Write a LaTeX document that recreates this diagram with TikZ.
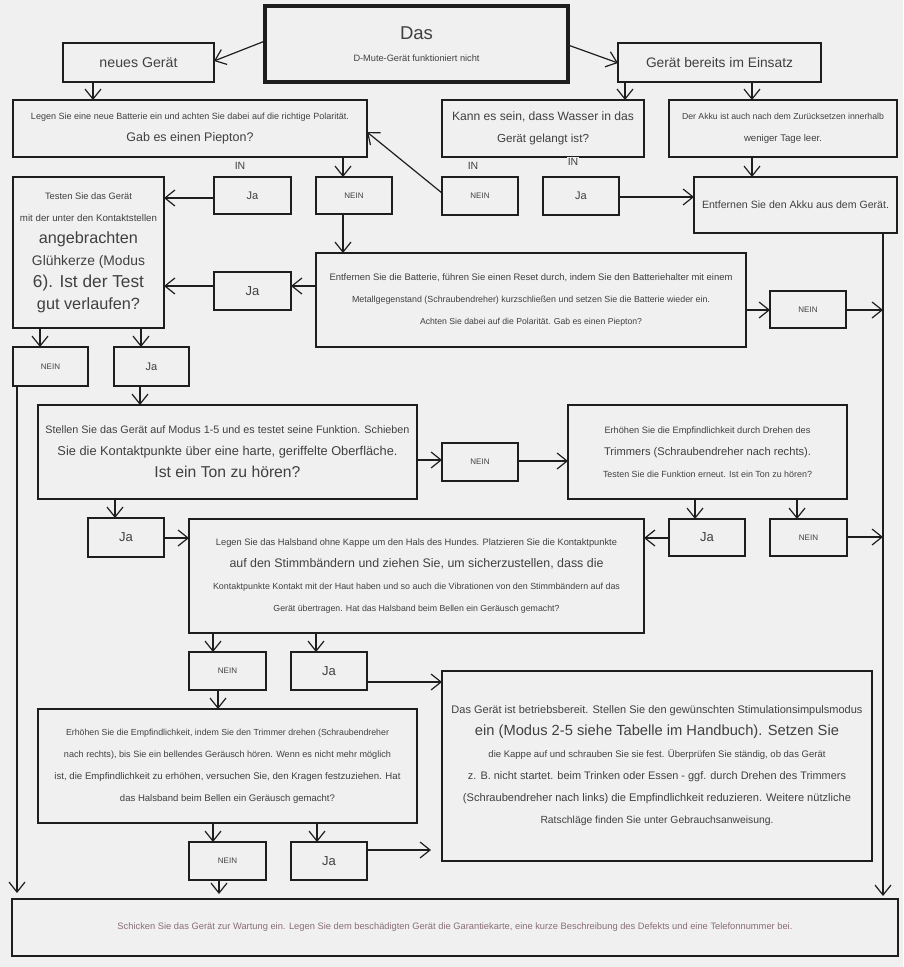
\documentclass[tikz,border=0pt]{standalone}
\usepackage{fontspec}
\setmainfont{Liberation Sans}
\usepackage{graphicx}
\usetikzlibrary{arrows.meta}
\definecolor{bg}{HTML}{F0F0F0}
\definecolor{bd}{HTML}{1E1E1E}
\definecolor{tx}{HTML}{404040}
\definecolor{mauve}{HTML}{8A6D78}
\newcommand\fl[2]{\resizebox{#1pt}{!}{#2}}
\newcommand\bx[6][]{\node[box,#1,minimum width={(#5-#3)*1pt},minimum height={(#6-#4)*1pt}] (#2) at ({(#3+#5)/2},{(#4+#6)/2})}
\tikzset{
  box/.style={draw=bd, line width=1.6pt, fill=bg, inner sep=0pt, outer sep=0pt, text=tx, align=center,
    font={\fontsize{10}{22}\selectfont\lineskiplimit=-100pt}},
  smallja/.style={font={\fontsize{11}{13}\selectfont}},
  bigja/.style={font={\fontsize{13}{15}\selectfont}},
  nein/.style={font={\fontsize{8}{10}\selectfont}},
  inlabel/.style={fill=bg, text=tx, inner sep=1pt, font={\fontsize{10.5}{12}\selectfont}},
  arr/.style={draw=bd, line width=1.2pt, -{Straight Barb[length=10pt,width=16pt]}},
}
\begin{document}
\begin{tikzpicture}[x=1pt,y=-1pt]
\fill[bg] (0,0) rectangle (903,967);
\useasboundingbox (0,0) rectangle (903,967);

% top row
\bx[line width=3.6pt]{title}{265}{6}{568}{82}{\fl{33}{Das}\\\fl{126}{D-Mute-Gerät funktioniert nicht}};
\bx{neues}{63}{43}{214}{82}{\fl{78}{neues Gerät}};
\bx{bereits}{618}{43}{821}{82}{\fl{147}{Gerät bereits im Einsatz}};

% second row
\bx{box1}{13}{100}{367}{157}{\fl{318}{Legen Sie eine neue Batterie ein und achten Sie dabei auf die richtige Polarität.}\\\fl{127}{Gab es einen Piepton?}};
\bx{kann}{442}{100}{644}{157}{\fl{182}{Kann es sein, dass Wasser in das}\\\fl{92}{Gerät gelangt ist?}};
\bx{akku}{669}{100}{897}{157}{\fl{202}{Der Akku ist auch nach dem Zurücksetzen innerhalb}\\\fl{78}{weniger Tage leer.}};

% third row
\bx[smallja]{ja1}{214}{177}{291}{214}{Ja};
\bx[nein]{nein1}{316}{177}{392}{214}{NEIN};
\bx[nein]{nein2}{442}{177}{518}{215}{NEIN};
\bx[smallja]{ja2}{543}{177}{619}{215}{Ja};
\bx{entf}{694}{177}{897}{233}{\fl{187}{Entfernen Sie den Akku aus dem Gerät.}};
\node[inlabel] (in1) at (240,166) {IN};
\node[inlabel] (in2) at (473,166) {IN};
\node[inlabel] (in3) at (573,162) {IN};

\bx{testen}{13}{177}{164}{328}{\fl{87}{Testen Sie das Gerät}\\\fl{137}{mit der unter den Kontaktstellen}\\\fl{99}{angebrachten}\\\fl{113}{Glühkerze (Modus}\\\fl{111}{6). Ist der Test}\\\fl{103}{gut verlaufen?}};

\bx{reset}{316}{253}{746}{347}{\fl{403}{Entfernen Sie die Batterie, führen Sie einen Reset durch, indem Sie den Batteriehalter mit einem}\\\fl{358}{Metallgegenstand (Schraubendreher) kurzschließen und setzen Sie die Batterie wieder ein.}\\\fl{222}{Achten Sie dabei auf die Polarität. Gab es einen Piepton?}};
\bx[bigja]{ja3}{214}{272}{291}{310}{Ja};
\bx[nein]{nein3}{770}{291}{846}{328}{NEIN};

\bx[nein]{nein4}{13}{347}{88}{386}{NEIN};
\bx[smallja]{ja4}{114}{347}{189}{386}{Ja};

\bx{stellen}{38}{405}{417}{499}{\fl{364}{Stellen Sie das Gerät auf Modus 1-5 und es testet seine Funktion. Schieben}\\\fl{340}{Sie die Kontaktpunkte über eine harte, geriffelte Oberfläche.}\\\fl{146}{Ist ein Ton zu hören?}};
\bx[nein]{nein5}{442}{443}{518}{481}{NEIN};
\bx{erh1}{568}{405}{847}{499}{\fl{206}{Erhöhen Sie die Empfindlichkeit durch Drehen des}\\\fl{207}{Trimmers (Schraubendreher nach rechts).}\\\fl{209}{Testen Sie die Funktion erneut. Ist ein Ton zu hören?}};

\bx[bigja]{ja5}{88}{518}{164}{557}{Ja};
\bx[bigja]{ja6}{669}{519}{745}{556}{Ja};
\bx[nein]{nein6}{770}{519}{847}{556}{NEIN};

\bx{hals}{189}{519}{644}{633}{\fl{401}{Legen Sie das Halsband ohne Kappe um den Hals des Hundes. Platzieren Sie die Kontaktpunkte}\\\fl{374}{auf den Stimmbändern und ziehen Sie, um sicherzustellen, dass die}\\\fl{407}{Kontaktpunkte Kontakt mit der Haut haben und so auch die Vibrationen von den Stimmbändern auf das}\\\fl{286}{Gerät übertragen. Hat das Halsband beim Bellen ein Geräusch gemacht?}};

\bx[nein]{nein7}{189}{652}{266}{690}{NEIN};
\bx[bigja]{ja7}{291}{652}{367}{690}{Ja};

\bx{betrieb}{442}{671}{872}{861}{\fl{411}{Das Gerät ist betriebsbereit. Stellen Sie den gewünschten Stimulationsimpulsmodus}\\\fl{364}{ein (Modus 2-5 siehe Tabelle im Handbuch). Setzen Sie}\\\fl{337}{die Kappe auf und schrauben Sie sie fest. Überprüfen Sie ständig, ob das Gerät}\\\fl{378}{z. B. nicht startet. beim Trinken oder Essen - ggf. durch Drehen des Trimmers}\\\fl{388}{(Schraubendreher nach links) die Empfindlichkeit reduzieren. Weitere nützliche}\\\fl{233}{Ratschläge finden Sie unter Gebrauchsanweisung.}};

\bx{erh2}{38}{709}{417}{823}{\fl{323}{Erhöhen Sie die Empfindlichkeit, indem Sie den Trimmer drehen (Schraubendreher}\\\fl{327}{nach rechts), bis Sie ein bellendes Geräusch hören. Wenn es nicht mehr möglich}\\\fl{346}{ist, die Empfindlichkeit zu erhöhen, versuchen Sie, den Kragen festzuziehen. Hat}\\\fl{215}{das Halsband beim Bellen ein Geräusch gemacht?}};

\bx[nein]{nein8}{189}{842}{266}{880}{NEIN};
\bx[bigja]{ja8}{291}{842}{367}{880}{Ja};

\bx[text=mauve]{last}{12}{899}{898}{956}{\fl{675}{Schicken Sie das Gerät zur Wartung ein. Legen Sie dem beschädigten Gerät die Garantiekarte, eine kurze Beschreibung des Defekts und eine Telefonnummer bei.}};

% connectors
\draw[arr] (title.west |- 0,41) -- (neues.east |- 0,61);
\draw[arr] (title.east |- 0,45) -- (bereits.west |- 0,63);
\draw[arr] (neues.south -| 93,0) -- (box1.north -| 93,0);
\draw[arr] (bereits.south -| 625,0) -- (kann.north -| 625,0);
\draw[arr] (bereits.south -| 752,0) -- (akku.north -| 752,0);
\draw[arr] (akku.south -| 752,0) -- (entf.north -| 752,0);
\draw[arr] (box1.south -| 343,0) -- (nein1.north -| 343,0);
\draw[arr] (nein2.west |- 0,193) -- (box1.east |- 0,132);
\draw[arr] (ja2.east |- 0,197) -- (entf.west |- 0,197);
\draw[arr] (ja1.west |- 0,198) -- (testen.east |- 0,198);
\draw[arr] (nein1.south -| 343,0) -- (reset.north -| 343,0);
\draw[arr] (reset.west |- 0,286) -- (ja3.east |- 0,286);
\draw[arr] (ja3.west |- 0,286) -- (testen.east |- 0,286);
\draw[arr] (reset.east |- 0,310) -- (nein3.west |- 0,310);
\coordinate (rline) at (883,0);
\draw[arr] (nein3.east |- 0,310) -- (rline |- 0,310);
\draw[arr] (entf.south -| rline) -- ([yshift=3pt]last.north -| rline);
\draw[arr] (testen.south -| 40,0) -- (nein4.north -| 40,0);
\draw[arr] (testen.south -| 141,0) -- (ja4.north -| 141,0);
\draw[arr] (nein4.south -| 17,0) -- ([yshift=6pt]last.north -| 17,0);
\draw[arr] (ja4.south -| 140,0) -- (stellen.north -| 140,0);
\draw[arr] (stellen.east |- 0,460) -- (nein5.west |- 0,460);
\draw[arr] (nein5.east |- 0,461) -- (erh1.west |- 0,461);
\draw[arr] (stellen.south -| 115,0) -- (ja5.north -| 115,0);
\draw[arr] (ja5.east |- 0,538) -- (hals.west |- 0,538);
\draw[arr] (erh1.south -| 695,0) -- (ja6.north -| 695,0);
\draw[arr] (erh1.south -| 797,0) -- (nein6.north -| 797,0);
\draw[arr] (ja6.west |- 0,538) -- (hals.east |- 0,538);
\draw[arr] (nein6.east |- 0,537) -- (rline |- 0,537);
\draw[arr] (hals.south -| 213,0) -- (nein7.north -| 213,0);
\draw[arr] (hals.south -| 316,0) -- (ja7.north -| 316,0);
\draw[arr] (ja7.east |- 0,682) -- (betrieb.west |- 0,682);
\draw[arr] (nein7.south -| 218,0) -- (erh2.north -| 218,0);
\draw[arr] (erh2.south -| 213,0) -- (nein8.north -| 213,0);
\draw[arr] (erh2.south -| 317,0) -- (ja8.north -| 317,0);
\draw[arr, shorten >=11pt] (ja8.east |- 0,850) -- (betrieb.west |- 0,850);
\draw[arr] (nein8.south -| 219,0) -- ([yshift=5pt]last.north -| 219,0);
\end{tikzpicture}
\end{document}
